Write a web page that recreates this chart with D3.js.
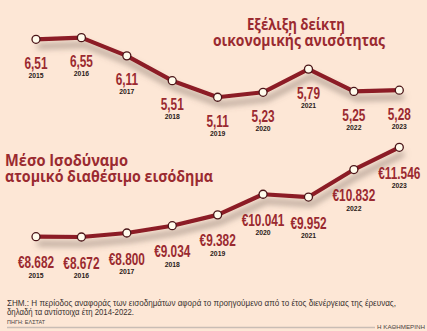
<!DOCTYPE html>
<html><head><meta charset="utf-8">
<script src="https://cdn.jsdelivr.net/npm/d3@7"></script>
<style>
html,body{margin:0;padding:0;background:#fde7d6;}
svg{display:block;}
</style></head>
<body>
<svg id="chart" width="427" height="331"></svg>
<script>
const years = ["2015","2016","2017","2018","2019","2020","2021","2022","2023"];
const inequalityValues = [6.51, 6.55, 6.11, 5.51, 5.11, 5.23, 5.79, 5.25, 5.28];
const incomeValues = [8682, 8672, 8800, 9034, 9382, 10041, 9952, 10832, 11546];
const topTitle = ["Εξέλιξη δείκτη", "οικονομικής ανισότητας"];
const bottomTitle = ["Μέσο Ισοδύναμο", "ατομικό διαθέσιμο εισόδημα"];
const noteLines = ["ΣΗΜ.: Η περίοδος αναφοράς των εισοδημάτων αφορά το προηγούμενο από το έτος διενέργειας της έρευνας,",
                   "δηλαδή τα αντίστοιχα έτη 2014-2022."];
const sourceText = "ΠΗΓΗ: ΕΛΣΤΑΤ";
const brandText = "Η ΚΑΘΗΜΕΡΙΝΗ";

const W = 427, H = 331;
const BG = "#fde7d6", RED = "#8c1d25", TXT = "#9a2a30";
const svg = d3.select("#chart");
svg.append("rect").attr("width", W).attr("height", H).attr("fill", BG);

const defs = svg.append("defs");
const f = defs.append("filter").attr("id","shadow").attr("x","-10%").attr("y","-40%").attr("width","130%").attr("height","200%");
f.append("feGaussianBlur").attr("in","SourceAlpha").attr("stdDeviation",3.4).attr("result","b");
f.append("feOffset").attr("in","b").attr("dx",3).attr("dy",7).attr("result","o");
f.append("feFlood").attr("flood-color","#6a5a52").attr("flood-opacity",0.6).attr("result","c");
f.append("feComposite").attr("in","c").attr("in2","o").attr("operator","in").attr("result","s");
const m = f.append("feMerge");
m.append("feMergeNode").attr("in","s");
m.append("feMergeNode").attr("in","SourceGraphic");

const loc = d3.formatLocale({decimal: ",", thousands: ".", grouping: [3], currency: ["€", ""]});
const fmtTop = loc.format(".2f");
const fmtBot = v => "€" + loc.format(",d")(v);

const x = d3.scalePoint().domain(years).range([36, 399.3]);
const yTop = d3.scaleLinear().domain([5, 7]).range([101.8, 19.0]);
const yBot = d3.scaleLinear().domain([8000, 12000]).range([258.0, 133.1]);

function drawSeries(values, y, fmt, valOff, yearOff) {
  const data = years.map((yr, i) => ({yr, v: values[i]}));
  const line = d3.line().x(d => x(d.yr)).y(d => y(d.v));
  svg.append("path").datum(data).attr("d", line)
    .attr("fill","none").attr("stroke",RED).attr("stroke-width",4.2)
    .attr("stroke-linejoin","round").attr("stroke-linecap","round")
    .attr("filter","url(#shadow)");
  svg.selectAll(null).data(data).enter().append("circle")
    .attr("cx", d => x(d.yr)).attr("cy", d => y(d.v)).attr("r", 4)
    .attr("fill","#fffbec").attr("stroke","#4a1518").attr("stroke-width",1.3);
  svg.selectAll(null).data(data).enter().append("text")
    .attr("transform", d => `translate(${x(d.yr)},${y(d.v) + valOff}) scale(0.74,1)`)
    .attr("text-anchor","middle")
    .attr("font-family","'Liberation Sans Narrow','Liberation Sans',Arial,sans-serif")
    .attr("font-weight","bold").attr("font-size",16).attr("fill",TXT)
    .text(d => fmt(d.v));
  svg.selectAll(null).data(data).enter().append("text")
    .attr("x", d => x(d.yr)).attr("y", d => y(d.v) + yearOff)
    .attr("text-anchor","middle")
    .attr("font-family","'Liberation Sans',Arial,sans-serif")
    .attr("font-weight","bold").attr("font-size",6.8).attr("fill","#2a1a18")
    .text(d => d.yr);
}

drawSeries(inequalityValues, yTop, fmtTop, 29.5, 38.5);
drawSeries(incomeValues, yBot, fmtBot, 31.5, 41);

// titles
const tf = "'Open Sans','Noto Sans',sans-serif";
function title(txt, xx, yy, len, anchor) {
  svg.append("text").attr("x", xx).attr("y", yy).attr("text-anchor", anchor)
    .attr("font-family", tf).attr("font-weight", "bold").attr("font-size", 15.5).attr("fill", TXT)
    .attr("textLength", len).attr("lengthAdjust","spacingAndGlyphs").text(txt);
}
title(topTitle[0], 296, 29.5, 98, "middle");
title(topTitle[1], 299, 45.5, 172, "middle");
title(bottomTitle[0], 5, 165.5, 123, "start");
title(bottomTitle[1], 5, 182, 208, "start");

// footer
const ff = "'Liberation Sans Narrow','Liberation Sans',sans-serif";
svg.append("text").attr("x", 7).attr("y", 306.3).attr("font-family", ff).attr("font-size", 8.2)
  .attr("fill","#3a3230").attr("textLength", 389).attr("lengthAdjust","spacingAndGlyphs").text(noteLines[0]);
svg.append("text").attr("x", 7).attr("y", 314.5).attr("font-family", ff).attr("font-size", 8.2)
  .attr("fill","#3a3230").attr("textLength", 127).attr("lengthAdjust","spacingAndGlyphs").text(noteLines[1]);
svg.append("text").attr("x", 7).attr("y", 323.5).attr("font-family", ff).attr("font-size", 5.8)
  .attr("fill","#4a4240").attr("textLength", 38).attr("lengthAdjust","spacingAndGlyphs").text(sourceText);
svg.append("line").attr("x1", 7).attr("x2", 375).attr("y1", 327.5).attr("y2", 327.5)
  .attr("stroke","#c9bdb5").attr("stroke-width",1.5);
svg.append("text").attr("x", 425).attr("y", 329.3).attr("text-anchor","end").attr("font-family", ff)
  .attr("font-size", 6).attr("fill","#4a4240").attr("textLength", 48).attr("lengthAdjust","spacingAndGlyphs").text(brandText);
</script>
</body></html>
